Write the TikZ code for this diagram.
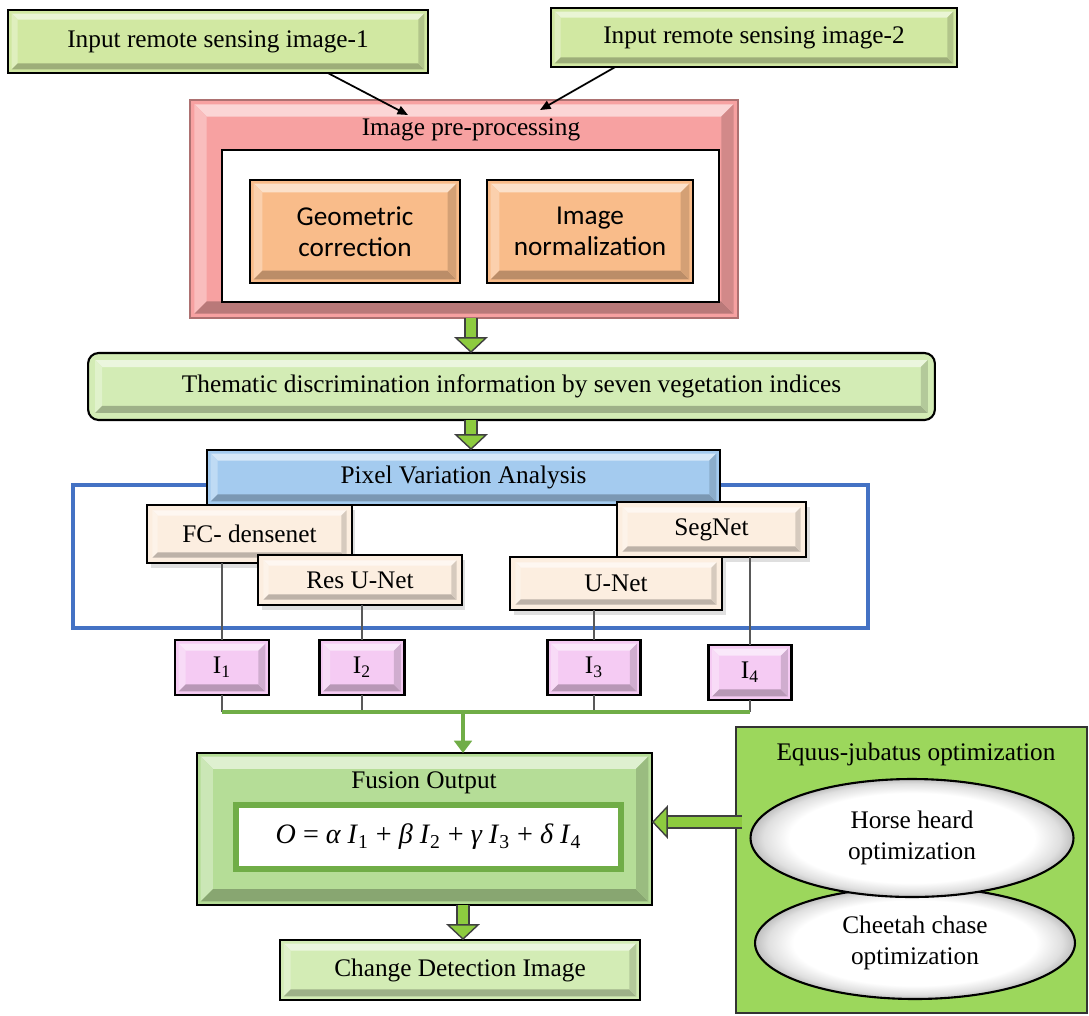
\documentclass[tikz,border=0pt]{standalone}
\usepackage{fontspec}
\setmainfont{Liberation Serif}
\newfontfamily\boxfont{Carlito}
\usetikzlibrary{arrows.meta,shapes.geometric,shadows}

\definecolor{ingreen}{HTML}{D1E8A2}
\definecolor{prepink}{HTML}{F7A1A1}
\definecolor{orng}{HTML}{F9BC8A}
\definecolor{themgreen}{HTML}{D3ECB5}
\definecolor{pvablue}{HTML}{A4CBEF}
\definecolor{blueline}{HTML}{4472C4}
\definecolor{cream}{HTML}{FCEEE0}
\definecolor{ipink}{HTML}{F5CBF3}
\definecolor{fusgreen}{HTML}{B5DD97}
\definecolor{eqgreen}{HTML}{9CD75C}
\definecolor{busgreen}{HTML}{70AD47}
\definecolor{arrowgreen}{HTML}{8DCB3F}

\pgfdeclareradialshading{rim}{\pgfpoint{0bp}{0bp}}{color(0bp)=(white); color(19bp)=(white);
  color(23bp)=(gray!25); color(25bp)=(gray!50); color(50bp)=(gray!50)}

% bevel frame inside a box node: node, colour, depth, inset
\newcommand{\bevel}[4]{%
  \coordinate (bA) at ([xshift=#4,yshift=-#4]#1.north west);
  \coordinate (bB) at ([xshift=-#4,yshift=-#4]#1.north east);
  \coordinate (bC) at ([xshift=-#4,yshift=#4]#1.south east);
  \coordinate (bD) at ([xshift=#4,yshift=#4]#1.south west);
  \coordinate (ba) at ([xshift=#3,yshift=-#3]bA);
  \coordinate (bb) at ([xshift=-#3,yshift=-#3]bB);
  \coordinate (bc) at ([xshift=-#3,yshift=#3]bC);
  \coordinate (bd) at ([xshift=#3,yshift=#3]bD);
  \fill[#2!45!white] (bA) -- (bB) -- (bb) -- (ba) -- cycle;
  \fill[#2!70!white] (bA) -- (ba) -- (bd) -- (bD) -- cycle;
  \fill[#2!75!black] (bD) -- (bd) -- (bc) -- (bC) -- cycle;
  \fill[#2!85!black] (bB) -- (bC) -- (bc) -- (bb) -- cycle;
}

\begin{document}
\begin{tikzpicture}[x=0.02cm, y=-0.02cm, font=\fontsize{14.4}{17.3}\selectfont,
    box/.style={draw=black, line width=1.2pt, inner sep=2pt, outer sep=0pt, align=center},
    model/.style={box, fill=cream, drop shadow={shadow xshift=2pt, shadow yshift=-3pt, opacity=0.25}},
    ibox/.style={box, fill=ipink},
    opt/.style={ellipse, draw=black, line width=1.2pt, shading=rim, align=center},
    fat/.style={draw=black!75, line width=0.8pt, double=arrowgreen, double distance=6pt,
      -{Triangle[width=19pt,length=9pt,fill=arrowgreen,color=black!75]}},
    link/.style={draw=gray!70!black, line width=1.5pt},
    busline/.style={draw=busgreen, line width=2.8pt}]
    \useasboundingbox (0,0) rectangle (1089,1015);

    % inputs
    \node[box, fill=ingreen, minimum width=8.4cm, minimum height=1.26cm] (in1) at (218,41.5) {Input remote sensing image-1};
    \bevel{in1}{ingreen}{3.5pt}{2pt}
    \node[box, fill=ingreen, minimum width=8.12cm, minimum height=1.18cm] (in2) at (754,37.5) {Input remote sensing image-2};
    \bevel{in2}{ingreen}{3.5pt}{2pt}

    % pre-processing
    \node[box, fill=prepink, draw=prepink!70!black, line width=0.8pt, minimum width=10.96cm, minimum height=4.36cm] (pre) at (464,209) {};
    \bevel{pre}{prepink}{7pt}{2.5pt}
    \node (pretitle) at (471,130) {Image pre-processing};
    \node[box, fill=white, minimum width=9.94cm, minimum height=3.04cm] (prein) at (470.5,226) {};
    \node[box, fill=orng, minimum width=4.2cm, minimum height=2.06cm, font=\boxfont\fontsize{15.5}{17.5}\selectfont] (geo) at (355,231.5) {Geometric\\correction};
    \bevel{geo}{orng}{5pt}{2pt}
    \node[box, fill=orng, minimum width=4.12cm, minimum height=2.06cm, font=\boxfont\fontsize{15.5}{17.5}\selectfont] (norm) at (590,231.5) {Image\\normalization};
    \bevel{norm}{orng}{5pt}{2pt}

    \coordinate (pin1) at (408,115);
    \coordinate (pin2) at (540,110);
    \draw[line width=1pt, -{Triangle[length=6pt,width=5pt]}] (in1.-16) -- (pin1);
    \draw[line width=1pt, -{Triangle[length=6pt,width=5pt]}] (in2.-168) -- (pin2);

    % vegetation indices
    \node[box, rounded corners=6pt, fill=themgreen, minimum width=16.94cm, minimum height=1.34cm] (them) at (511.5,386.5) {};
    \bevel{them}{themgreen}{4pt}{4pt}
    \node at (them) {Thematic discrimination information by seven vegetation indices};

    % pixel variation analysis
    \draw[line width=1.8pt, blueline] (73,485) rectangle (868,628);
    \node[box, fill=pvablue, minimum width=10.26cm, minimum height=1.1cm] (pva) at (463.5,477.5) {Pixel Variation Analysis};
    \bevel{pva}{pvablue}{4pt}{2pt}

    \node[model, minimum width=4.1cm, minimum height=1.16cm] (fc) at (249.5,534) {FC- densenet};
    \bevel{fc}{cream}{3pt}{3pt}
    \node[model, minimum width=4.08cm, minimum height=1cm] (resu) at (360,580) {Res U-Net};
    \bevel{resu}{cream}{3pt}{3pt}
    \node[model, minimum width=3.78cm, minimum height=1.1cm] (seg) at (711.5,529.5) {SegNet};
    \bevel{seg}{cream}{3pt}{3pt}
    \node[model, minimum width=4.24cm, minimum height=1.06cm] (unet) at (616,583.5) {U-Net};
    \bevel{unet}{cream}{3pt}{3pt}

    \node[ibox, minimum width=1.88cm, minimum height=1.1cm] (I1) at (222,667.5) {I\textsubscript{1}};
    \bevel{I1}{ipink}{4pt}{2pt}
    \node[ibox, minimum width=1.7cm, minimum height=1.1cm] (I2) at (362,667.5) {I\textsubscript{2}};
    \bevel{I2}{ipink}{4pt}{2pt}
    \node[ibox, minimum width=1.86cm, minimum height=1.1cm] (I3) at (594,667.5) {I\textsubscript{3}};
    \bevel{I3}{ipink}{4pt}{2pt}
    \node[ibox, minimum width=1.66cm, minimum height=1.1cm] (I4) at (750,672.5) {I\textsubscript{4}};
    \bevel{I4}{ipink}{4pt}{2pt}

    \coordinate (bus) at (463,712);
    \draw[link] (fc.south -| I1) -- (I1.north);
    \draw[link] (resu.south -| I2) -- (I2.north);
    \draw[link] (unet.south -| I3) -- (I3.north);
    \draw[link] (seg.south -| I4) -- (I4.north);
    \draw[link] (I1.south) -- (I1.south |- bus);
    \draw[link] (I2.south) -- (I2.south |- bus);
    \draw[link] (I3.south) -- (I3.south |- bus);
    \draw[link] (I4.south) -- (I4.south |- bus);
    \draw[busline] (I1.south |- bus) -- (I4.south |- bus);

    % fusion
    \node[box, fill=fusgreen, minimum width=9.1cm, minimum height=3.04cm] (fus) at (424.5,829) {};
    \bevel{fus}{fusgreen}{7pt}{2pt}
    \node (fustitle) at (424,783) {Fusion Output};
    \node[draw=busgreen, line width=3.4pt, fill=white, minimum width=7.7cm, minimum height=1.28cm,
      font=\fontsize{16}{19}\selectfont] (formula) at (428.5,837)
      {\textit{O} = \textit{α I}\textsubscript{1} + \textit{β I}\textsubscript{2} + \textit{γ I}\textsubscript{3} + \textit{δ I}\textsubscript{4}};
    \draw[busline, -{Triangle[width=10pt,length=7pt]}] (bus) -- (fus.north -| bus);

    \node[box, fill=themgreen, minimum width=7.2cm, minimum height=1.2cm] (chg) at (460,970) {Change Detection Image};
    \bevel{chg}{themgreen}{4pt}{2pt}

    % optimization
    \node[draw=black!80, line width=1.2pt, fill=eqgreen, minimum width=7.02cm, minimum height=5.72cm] (eq) at (911.5,870) {};
    \node (eqtitle) at (916,754) {Equus-jubatus optimization};
    \node[opt, minimum width=6.4cm, minimum height=2.24cm] (cheetah) at (915,943) {Cheetah chase\\optimization};
    \node[opt, minimum width=6.46cm, minimum height=2.36cm] (horse) at (912,838) {Horse heard\\optimization};

    % block arrows
    \coordinate (eqin) at (742,822);
    \draw[fat] (pre.south -| pretitle) -- (them.north -| pretitle);
    \draw[fat] (them.south -| pretitle) -- (pva.north -| pretitle);
    \draw[fat] (fus.south -| bus) -- (chg.north -| bus);
    \draw[fat] (eqin) -- (fus.east |- eqin);
  \end{tikzpicture}
\end{document}
